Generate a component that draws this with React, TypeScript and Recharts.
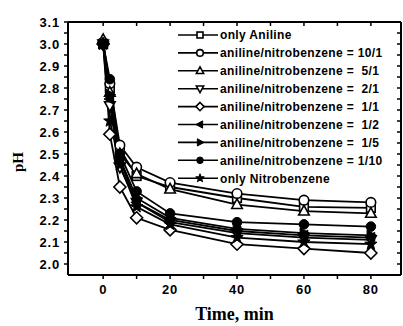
import React from 'react';
import { LineChart, Line, XAxis, YAxis, Legend } from 'recharts';

const times = [0, 2, 5, 10, 20, 40, 60, 80];

const onlyAniline = [3.0, 2.8, 2.52, 2.4, 2.35, 2.3, 2.26, 2.255];
const ratio10to1 = [3.0, 2.82, 2.54, 2.44, 2.37, 2.32, 2.29, 2.28];
const ratio5to1 = [3.02, 2.78, 2.5, 2.41, 2.34, 2.27, 2.24, 2.23];
const ratio2to1 = [3.0, 2.72, 2.44, 2.28, 2.19, 2.14, 2.12, 2.11];
const ratio1to1 = [3.0, 2.59, 2.35, 2.21, 2.155, 2.09, 2.07, 2.05];
const ratio1to2 = [3.0, 2.75, 2.47, 2.28, 2.2, 2.15, 2.13, 2.12];
const ratio1to5 = [3.0, 2.77, 2.48, 2.3, 2.21, 2.16, 2.14, 2.13];
const ratio1to10 = [3.0, 2.84, 2.5, 2.33, 2.23, 2.19, 2.18, 2.17];
const onlyNitrobenzene = [3.0, 2.65, 2.45, 2.26, 2.18, 2.12, 2.1, 2.09];

const seriesNames = [
  'only Aniline',
  'aniline/nitrobenzene = 10/1',
  'aniline/nitrobenzene =  5/1',
  'aniline/nitrobenzene =  2/1',
  'aniline/nitrobenzene =  1/1',
  'aniline/nitrobenzene =  1/2',
  'aniline/nitrobenzene =  1/5',
  'aniline/nitrobenzene = 1/10',
  'only Nitrobenzene',
];
const seriesValues = [
  onlyAniline,
  ratio10to1,
  ratio5to1,
  ratio2to1,
  ratio1to1,
  ratio1to2,
  ratio1to5,
  ratio1to10,
  onlyNitrobenzene,
];
const shapes = ['square', 'circle', 'triUp', 'triDown', 'diamond', 'triLeft', 'triRight', 'dot', 'star'];

const xTicks = [0, 10, 20, 30, 40, 50, 60, 70, 80];
const xLabelTicks = [0, 20, 40, 60, 80];
const yTicks = [2.0, 2.05, 2.1, 2.15, 2.2, 2.25, 2.3, 2.35, 2.4, 2.45, 2.5, 2.55, 2.6, 2.65, 2.7, 2.75, 2.8, 2.85, 2.9, 2.95, 3.0, 3.05, 3.1];

const data = times.map((t, i) => {
  const row: Record<string, number> = { t };
  seriesValues.forEach((vals, k) => {
    row['s' + k] = vals[i];
  });
  return row;
});

function Marker({ shape, cx, cy, r }: { shape: string; cx: number; cy: number; r: number }) {
  const open = { fill: '#fff', stroke: '#000', strokeWidth: 1.6 };
  const solid = { fill: '#000', stroke: '#000', strokeWidth: 1 };
  switch (shape) {
    case 'square':
      return <rect x={cx - r * 0.9} y={cy - r * 0.9} width={r * 1.8} height={r * 1.8} {...open} />;
    case 'circle':
      return <circle cx={cx} cy={cy} r={r} {...open} />;
    case 'triUp':
      return <polygon points={`${cx},${cy - r * 1.2} ${cx + r * 1.1},${cy + r * 0.8} ${cx - r * 1.1},${cy + r * 0.8}`} {...open} />;
    case 'triDown':
      return <polygon points={`${cx},${cy + r * 1.2} ${cx + r * 1.1},${cy - r * 0.8} ${cx - r * 1.1},${cy - r * 0.8}`} {...open} />;
    case 'diamond':
      return <polygon points={`${cx},${cy - r * 1.25} ${cx + r * 1.25},${cy} ${cx},${cy + r * 1.25} ${cx - r * 1.25},${cy}`} {...open} />;
    case 'triLeft':
      return <polygon points={`${cx - r * 1.2},${cy} ${cx + r * 0.8},${cy - r * 1.1} ${cx + r * 0.8},${cy + r * 1.1}`} {...solid} />;
    case 'triRight':
      return <polygon points={`${cx + r * 1.2},${cy} ${cx - r * 0.8},${cy - r * 1.1} ${cx - r * 0.8},${cy + r * 1.1}`} {...solid} />;
    case 'dot':
      return <circle cx={cx} cy={cy} r={r} {...solid} />;
    case 'star': {
      const pts: string[] = [];
      for (let i = 0; i < 10; i++) {
        const a = -Math.PI / 2 + (i * Math.PI) / 5;
        const rr = i % 2 === 0 ? r * 1.35 : r * 0.55;
        pts.push(`${cx + rr * Math.cos(a)},${cy + rr * Math.sin(a)}`);
      }
      return <polygon points={pts.join(' ')} {...solid} />;
    }
    default:
      return null;
  }
}

const tickStyle = {
  fontSize: 13,
  fontWeight: 700,
  fill: '#000',
  fontFamily: '"Liberation Sans", Arial, sans-serif',
  letterSpacing: 0.8,
};

function LegendBox() {
  const rowH = 17.9;
  return (
    <svg width={225} height={165} style={{ display: 'block' }}>
      {seriesNames.map((name, i) => {
        const y = 9 + i * rowH;
        return (
          <g key={name}>
            <line x1={0} y1={y} x2={40} y2={y} stroke="#000" strokeWidth={1.6} />
            <Marker shape={shapes[i]} cx={22} cy={y} r={3.3} />
            <text
              x={42}
              y={y + 4.3}
              fontSize={12}
              fontWeight={700}
              fontFamily='"Liberation Sans", Arial, sans-serif'
              letterSpacing={0.35}
              fill="#000"
              style={{ whiteSpace: 'pre' }}
              xmlSpace="preserve"
            >
              {name}
            </text>
          </g>
        );
      })}
    </svg>
  );
}

export default function App() {
  return (
    <div style={{ position: 'fixed', left: 0, top: 0, width: 403, height: 326, background: '#fff' }}>
      <LineChart width={403} height={326} data={data} margin={{ top: 22, right: 2, bottom: 0, left: 0 }}>
        <XAxis
          dataKey="t"
          type="number"
          domain={[-10.5, 89]}
          allowDataOverflow
          ticks={xTicks}
          interval={0}
          tickFormatter={(v: number) => (xLabelTicks.includes(v) ? String(v) : '')}
          height={51}
          axisLine={{ stroke: '#000', strokeWidth: 2 }}
          tickLine={{ stroke: '#000', strokeWidth: 1.5 }}
          tickSize={4}
          tickMargin={6}
          tick={tickStyle}
          label={{
            value: 'Time, min',
            position: 'insideBottom',
            offset: 6,
            style: { fontSize: 18, fontWeight: 700, fill: '#000', fontFamily: '"Liberation Serif", "Times New Roman", serif' },
          }}
        />
        <XAxis
          xAxisId="top"
          dataKey="t"
          type="number"
          orientation="top"
          mirror
          domain={[-10.5, 89]}
          allowDataOverflow
          ticks={xTicks}
          interval={0}
          tickFormatter={() => ''}
          height={1}
          axisLine={{ stroke: '#000', strokeWidth: 2 }}
          tickLine={{ stroke: '#000', strokeWidth: 1.5 }}
          tickSize={4}
        />
        <YAxis
          type="number"
          domain={[1.95, 3.1]}
          allowDataOverflow
          ticks={yTicks}
          interval={0}
          width={68}
          tickFormatter={(v: number) => (Math.round(v * 100) % 10 === 0 ? v.toFixed(1) : '')}
          axisLine={{ stroke: '#000', strokeWidth: 2 }}
          tickLine={{ stroke: '#000', strokeWidth: 1.5 }}
          tickSize={4}
          tickMargin={4}
          tick={tickStyle}
          label={{
            content: () => (
              <text
                x={23}
                y={162}
                transform="rotate(-90 23 162)"
                textAnchor="middle"
                fontSize={15}
                fontWeight={700}
                fontFamily='"Liberation Serif", "Times New Roman", serif'
                fill="#000"
              >
                pH
              </text>
            ),
          }}
        />
        <YAxis
          yAxisId="right"
          orientation="right"
          mirror
          type="number"
          domain={[1.95, 3.1]}
          allowDataOverflow
          ticks={yTicks}
          interval={0}
          width={1}
          tickFormatter={() => ''}
          axisLine={{ stroke: '#000', strokeWidth: 2 }}
          tickLine={{ stroke: '#000', strokeWidth: 1.5 }}
          tickSize={4}
        />
        <Legend
          layout="vertical"
          align="center"
          verticalAlign="middle"
          wrapperStyle={{ position: 'absolute', left: 178, top: 26, width: 225, height: 165 }}
          content={() => <LegendBox />}
        />
        {seriesNames.map((name, k) => (
          <Line
            key={name}
            dataKey={'s' + k}
            name={name}
            stroke="#000"
            strokeWidth={1.8}
            isAnimationActive={false}
            dot={(p: any) => <Marker key={'d' + k + '-' + p.index} shape={shapes[k]} cx={p.cx} cy={p.cy} r={4.8} />}
            activeDot={false}
          />
        ))}
      </LineChart>
    </div>
  );
}
